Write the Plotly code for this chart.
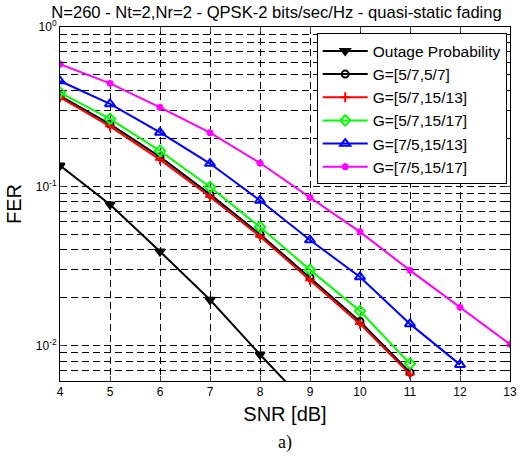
import plotly.graph_objects as go

snr = [4, 5, 6, 7, 8, 9, 10, 11, 12, 13]
outage = [0.135, 0.077, 0.039, 0.0194, 0.0088, 0.0041]
g_57_57 = [0.370, 0.246, 0.153, 0.089, 0.0500, 0.0268, 0.0142, 0.0068]
g_57_1513 = [0.362, 0.238, 0.147, 0.086, 0.0485, 0.0257, 0.0137, 0.0066]
g_57_1517 = [0.388, 0.265, 0.167, 0.099, 0.0555, 0.0299, 0.0165, 0.0077]
g_75_1513 = [0.458, 0.329, 0.218, 0.139, 0.0815, 0.046, 0.027, 0.0137, 0.0076]
g_75_1517 = [0.585, 0.443, 0.313, 0.217, 0.140, 0.085, 0.0518, 0.0297, 0.0174, 0.0102]

series = [
    ("Outage Probability", outage, "black", "triangle-down", 8),
    ("G=[5/7,5/7]", g_57_57, "black", "circle-open", 7),
    ("G=[5/7,15/13]", g_57_1513, "#ff0000", "cross-thin-open", 7),
    ("G=[5/7,15/17]", g_57_1517, "#00ff00", "diamond-open", 8),
    ("G=[7/5,15/13]", g_75_1513, "#0000ff", "triangle-up-open", 9),
    ("G=[7/5,15/17]", g_75_1517, "#ff00ff", "asterisk-open", 6),
]

fig = go.Figure()
for name, vals, color, sym, size in series:
    fig.add_trace(go.Scatter(
        x=snr[:len(vals)], y=vals, name=name, mode="lines+markers",
        line=dict(color=color, width=2),
        marker=dict(symbol=sym, size=size, color=color, line=dict(color=color, width=2)),
    ))

major_y = [0.01, 0.1, 1]
major_y_text = ["10<sup>-2</sup>", "10<sup>-1</sup>", "10<sup>0</sup>"]
minor_y = [m * 10 ** e for e in (-3, -2, -1) for m in range(2, 10) if m * 10 ** e >= 0.006]

grid = dict(showgrid=True, gridcolor="black", gridwidth=1, griddash="7px,4px")

fig.update_layout(
    width=529, height=461,
    margin=dict(l=60, r=19, t=27, b=80, autoexpand=False),
    paper_bgcolor="white", plot_bgcolor="white",
    font=dict(family="Liberation Sans, Arial, sans-serif", color="black", size=12),
    title=dict(text="N=260 - Nt=2,Nr=2 - QPSK-2 bits/sec/Hz - quasi-static fading",
               font=dict(size=16.6), x=276.5 / 529, xanchor="center",
               y=1 - 12 / 461, yanchor="middle", yref="container"),
    xaxis=dict(range=[4, 13], tickvals=snr, ticks="inside", ticklen=5,
               showline=True, linecolor="black", linewidth=1, mirror="ticks",
               title=dict(text="SNR [dB]", font=dict(size=20), standoff=8),
               tickfont=dict(size=12), zeroline=False, automargin=False, **grid),
    yaxis=dict(type="log", range=[-2.2218, 0], tickvals=major_y, ticktext=major_y_text,
               ticks="inside", ticklen=5,
               showline=True, linecolor="black", linewidth=1, mirror="ticks",
               title=dict(text="FER", font=dict(size=20), standoff=8),
               tickfont=dict(size=12), zeroline=False, automargin=False,
               minor=dict(tickmode="array", tickvals=minor_y, ticks="inside", ticklen=3,
                          tickcolor="black", showgrid=True, gridcolor="black",
                          gridwidth=1, griddash="7px,4px"),
               **grid),
    legend=dict(x=0.9927, y=0.982, xanchor="right", yanchor="top",
                bgcolor="white", bordercolor="black", borderwidth=1,
                font=dict(size=15.5), tracegroupgap=0, itemwidth=45),
    showlegend=True,
)

fig.add_annotation(text="a)", xref="paper", yref="paper", x=0.5, y=-62 / 354.3,
                   xanchor="center", yanchor="middle", showarrow=False,
                   font=dict(family="Liberation Serif, Times New Roman, serif", size=18))

fig.write_html("out.html", config={"displayModeBar": False},
               post_script="document.body.style.margin='0px';")
